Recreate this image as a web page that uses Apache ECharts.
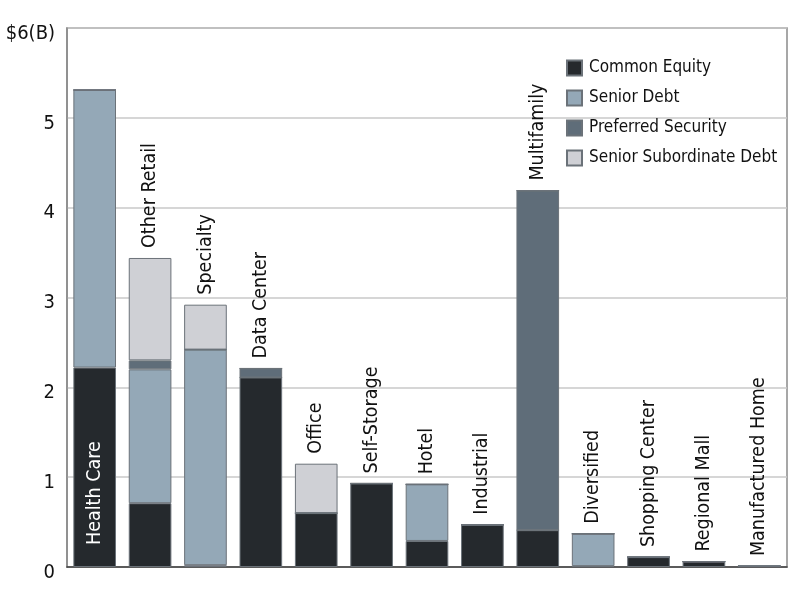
<!DOCTYPE html>
<html>
<head>
<meta charset="utf-8">
<title>Investments by property type</title>
<script src="https://cdn.jsdelivr.net/npm/echarts@6/dist/echarts.min.js"></script>
<style>
  html, body { margin: 0; padding: 0; background: #fff; }
  #main { width: 800px; height: 600px; }
</style>
</head>
<body>
<div id="main"></div>
<script>
// data, $ billions
var categories = ['Health Care', 'Other Retail', 'Specialty', 'Data Center', 'Office', 'Self-Storage',
    'Hotel', 'Industrial', 'Multifamily', 'Diversified', 'Shopping Center', 'Regional Mall', 'Manufactured Home'];
var commonEquity    = [2.22, 0.71, 0.02, 2.11, 0.60, 0.93, 0.29, 0.47, 0.41, 0.01, 0.11, 0.06, 0.01];
var seniorDebt      = [3.09, 1.49, 2.40, 0,    0,    0,    0.63, 0,    0,    0.36, 0,    0,    0];
var preferredSec    = [0,    0.10, 0,    0.10, 0,    0,    0,    0,    3.78, 0,    0,    0,    0];
var seniorSubDebt   = [0,    1.14, 0.50, 0,    0.55, 0,    0,    0,    0,    0,    0,    0,    0];
var yTicks = [0, 1, 2, 3, 4, 5, 6];

var FONT = '"DejaVu Sans Condensed", "Liberation Sans Narrow", sans-serif';
var border = { borderColor: '#6b7279', borderWidth: 1 };

function barSeries(name, data, color) {
    return {
        name: name,
        type: 'bar',
        stack: 'total',
        barWidth: '77%',
        data: data,
        itemStyle: Object.assign({ color: color }, border),
        emphasis: { disabled: true }
    };
}

// common equity; the first category gets its name inside the bar
var ceData = commonEquity.map(function(v, i) {
    if (i === 0) {
        return {
            value: v,
            label: {
                show: true, position: 'insideBottom', rotate: 90, distance: 22,
                align: 'left', verticalAlign: 'middle',
                formatter: '{b}', color: '#fff', fontSize: 19.5, fontFamily: FONT
            }
        };
    }
    return v;
});

// zero-height series on top of the stack, only carries the category names
var labelData = categories.map(function(c, i) {
    return { value: 0, label: { show: i !== 0 } };
});

var series = [
    barSeries('Common Equity', ceData, '#25292d'),
    barSeries('Senior Debt', seniorDebt, '#94a8b7'),
    barSeries('Preferred Security', preferredSec, '#5f6d79'),
    barSeries('Senior Subordinate Debt', seniorSubDebt, '#cfd0d5'),
    {
        name: 'labels',
        type: 'bar',
        stack: 'total',
        barWidth: '77%',
        data: labelData,
        itemStyle: { color: 'rgba(0,0,0,0)' },
        silent: true,
        label: {
            show: true, position: 'top', rotate: 90, distance: 10,
            align: 'left', verticalAlign: 'middle',
            formatter: '{b}', color: '#111', fontSize: 19.5, fontFamily: FONT
        }
    }
];

var option = {
    animation: false,
    backgroundColor: '#fff',
    grid: {
        left: 67, right: 13, top: 28, bottom: 33,
        show: true, borderColor: '#8a8a8a', borderWidth: 1.5
    },
    legend: {
        data: ['Common Equity', 'Senior Debt', 'Preferred Security', 'Senior Subordinate Debt'],
        orient: 'vertical',
        left: 566, top: 58,
        padding: 0,
        itemWidth: 15, itemHeight: 15, itemGap: 10,
        icon: 'rect',
        selectedMode: false,
        textStyle: { fontSize: 17, lineHeight: 20, color: '#111', fontFamily: FONT, padding: [0, 0, 0, 2] }
    },
    xAxis: {
        type: 'category',
        data: categories,
        axisLine: { show: true, lineStyle: { color: '#3a3a3a', width: 1.5 } },
        axisTick: { show: false },
        axisLabel: { show: false },
        splitLine: { show: false }
    },
    yAxis: {
        type: 'value',
        min: yTicks[0],
        max: yTicks[yTicks.length - 1],
        interval: 1,
        axisLine: { show: true, lineStyle: { color: '#8a8a8a', width: 1.5 } },
        axisTick: { show: false },
        splitLine: { lineStyle: { color: '#c8c8c8', width: 1.5 } },
        axisLabel: {
            margin: 12,
            color: '#111',
            fontSize: 20,
            fontFamily: FONT,
            verticalAlign: 'top',
            lineHeight: 11,
            formatter: function(v) { return v === 6 ? '$6(B)' : String(v); }
        }
    },
    series: series
};

var chart = echarts.init(document.getElementById('main'));
chart.setOption(option);
</script>
</body>
</html>
